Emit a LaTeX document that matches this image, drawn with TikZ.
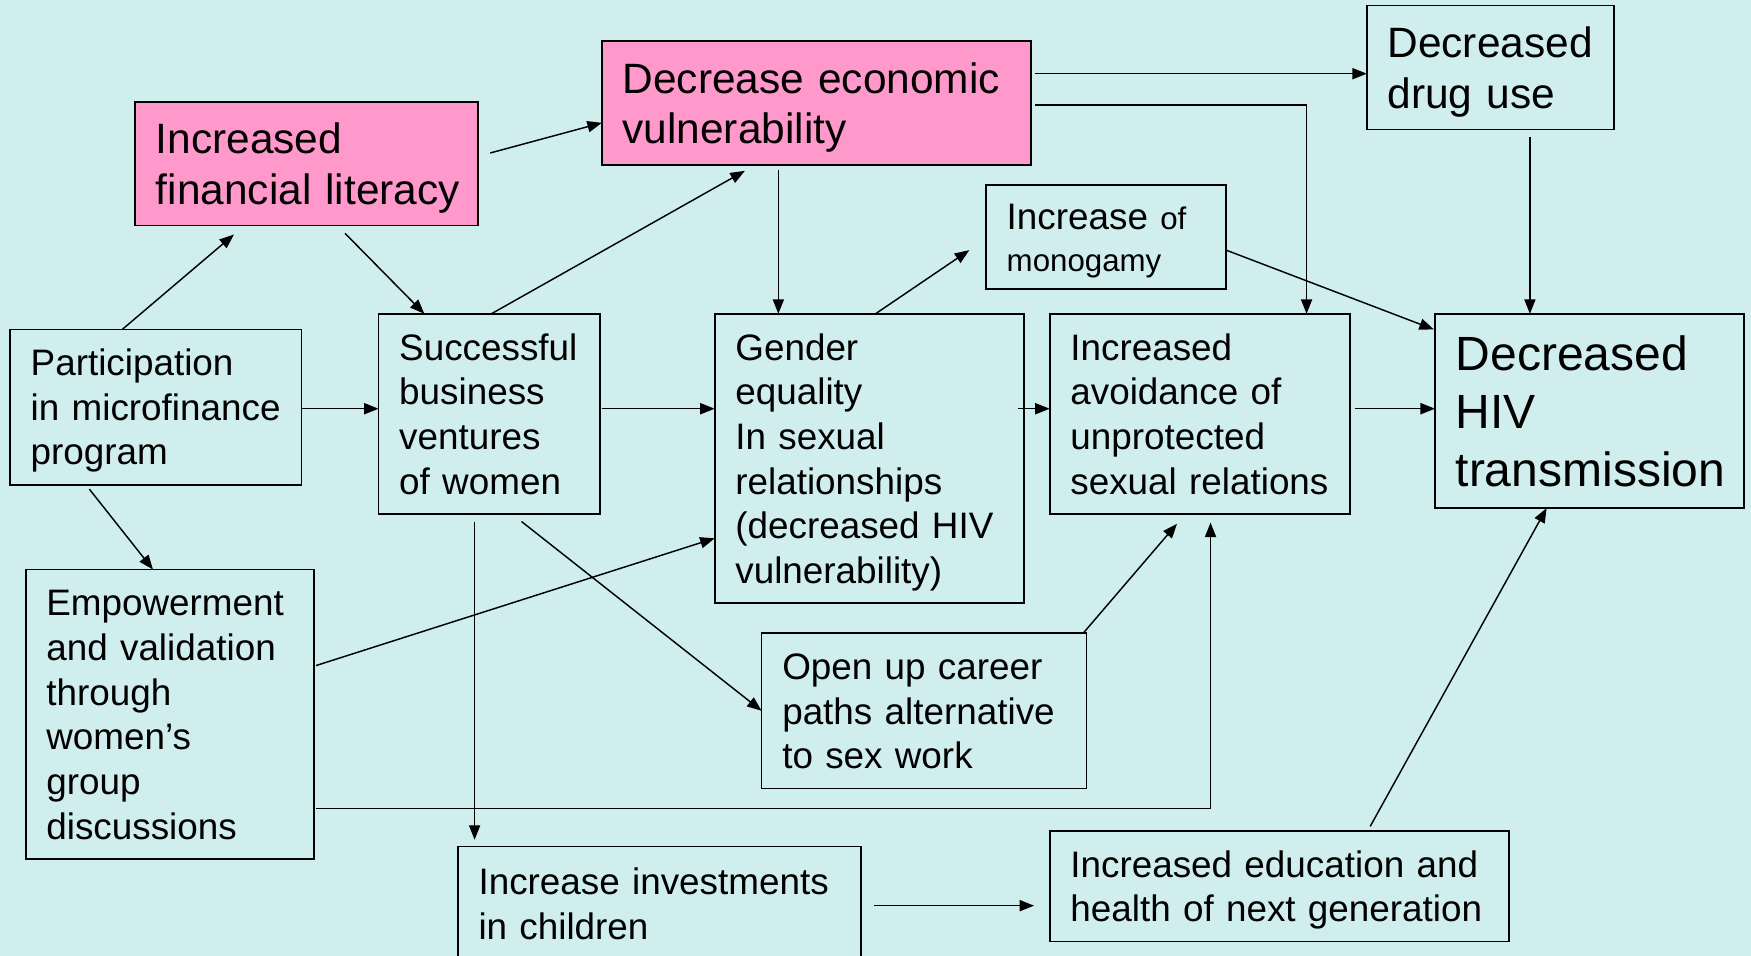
\documentclass[tikz,border=0pt]{standalone}
\usepackage{fontspec}
\setmainfont{Liberation Sans}
\usetikzlibrary{arrows.meta,calc}
\definecolor{bgc}{RGB}{209,238,238}
\definecolor{pinkc}{RGB}{255,153,204}
\hyphenpenalty=10000
\exhyphenpenalty=10000
\begin{document}
\begin{tikzpicture}[x=1pt,y=-1pt,
  box/.style={draw=black, line width=1.6pt, align=left, inner xsep=18.5pt, inner ysep=0pt, outer sep=0pt,
    execute at begin node={\rule{0pt}{0.97em}},
    execute at end node={\rule[-0.25em]{0pt}{0.25em}},
    font=\fontsize{33}{40}\selectfont},
  pinkbox/.style={box, fill=pinkc, font=\fontsize{38}{45}\selectfont},
  arr/.style={line width=1.3pt, -{Triangle[length=13pt,width=10pt]}}]
\useasboundingbox (0,0) rectangle (1568,856);
\clip (0,0) rectangle (1568,856);
\fill[bgc] (0,0) rectangle (1568,856);

% nodes
\node[box, font=\fontsize{38}{46}\selectfont, text width=184pt, minimum height=111pt] (drug) at (1334.5,60.5) {Decreased\\drug~use};
\node[pinkbox, text width=347pt, minimum height=111pt] (econ) at (731,92.5) {Decrease~economic\\vulnerability};
\node[pinkbox, text width=270pt, minimum height=111pt] (fin) at (274.5,146.5) {Increased\\\mbox{financial~literacy}};
\node[box, font=\fontsize{33}{37}\selectfont, text width=178pt, minimum height=93pt] (mono) at (990.5,212.5) {Increase~{\fontsize{28}{37}\selectfont of}\\{\fontsize{28}{37}\selectfont monogamy}};
\node[box, text width=224pt, minimum height=139pt] (part) at (139.5,364.5) {Participation\\in~microfinance\\program};
\node[box, text width=161pt, minimum height=179pt] (succ) at (438,370.5) {Successful\\business\\ventures\\of~women};
\node[box, text width=240pt, minimum height=259pt] (gender) at (778.5,410.5) {Gender\\equality\\In~sexual\\relationships\\(decreased~HIV\\vulnerability)};
\node[box, text width=232pt, minimum height=179pt] (avoid) at (1074.5,370.5) {Increased\\avoidance~of\\unprotected\\sexual~relations};
\node[box, font=\fontsize{43}{52}\selectfont, text width=240pt, minimum height=174pt] (hiv) at (1423.5,368) {Decreased\\HIV\\transmission};
\node[box, text width=221pt, minimum height=259pt] (emp) at (152,639.5) {Empowerment\\and~validation\\through\\women’s\\group\\discussions};
\node[box, text width=254pt, minimum height=139pt] (career) at (827.5,636.5) {Open~up~career\\paths~alternative\\to~sex~work};
\node[box, text width=324pt, minimum height=102pt] (invest) at (590.5,809) {Increase~investments\\in~children};
\node[box, text width=374pt, minimum height=99pt] (edu) at (1145.5,793.5) {Increased~education~and\\health~of~next~generation};

\coordinate (row) at (0,366);

% connectors
\draw[arr] ($(part.north)+(-30,0)$) -- ($(fin.south)+(-65,8)$);
\draw[arr] ($(fin.south)+(34.5,7)$) -- ($(succ.north)+(-58,0)$);
\draw[arr] ($(fin.east)+(11,-9.5)$) -- ($(econ.west)+(0,17.5)$);
\draw[arr] (part.east |- row) -- (succ.west |- row);
\draw[arr] ($(part.south)+(-59.5,4)$) -- ($(emp.north)+(-15,0)$);
\draw[arr] ($(succ.north)+(2,0)$) -- ($(econ.south)+(-64,5)$);
\draw[arr] ($(succ.east |- row)+(2,0)$) -- (gender.west |- row);
\draw[arr] ($(succ.south)+(-13,7)$) -- ($(invest.north)+(-165.5,-6)$);
\draw[arr] ($(succ.south)+(29,7)$) -- (career.west);
\draw[arr] ($(econ.south)+(-34,4)$) -- ($(gender.north)+(-81.5,0)$);
\draw[arr] ($(econ.east)+(4,-26.5)$) -- ($(drug.west)+(0,5.5)$);
\draw[arr] ($(econ.east)+(4,1.5)$) -| ($(avoid.north)+(95.5,0)$);
\draw[arr] ($(gender.north)+(5.5,0)$) -- ($(mono.west)+(-15,11.5)$);
\draw[arr] ($(gender.east |- row)+(-5,0)$) -- (avoid.west |- row);
\draw[arr] ($(mono.east)+(0,11.5)$) -- ($(hiv.north west)+(-1,14)$);
\draw[arr] ($(avoid.east |- row)+(4,0)$) -- (hiv.west |- row);
\draw[arr] ($(drug.south)+(35.5,7)$) -- ($(hiv.north)+(-53.5,0)$);
\draw[arr] ($(emp.east)+(2,-43.5)$) -- ($(gender.west)+(0,71.5)$);
\draw[arr] ($(emp.east)+(2,84.5)$) -| ($(avoid.south)+(9.5,8)$);
\draw[arr] ($(career.north east)+(-3,0)$) -- ($(avoid.south)+(-20.5,9)$);
\draw[arr] ($(invest.east)+(12,2)$) -- ($(edu.west)+(-14,17.5)$);
\draw[arr] ($(edu.north)+(81.5,-4)$) -- ($(hiv.south)+(-38.5,0)$);
\end{tikzpicture}
\end{document}
